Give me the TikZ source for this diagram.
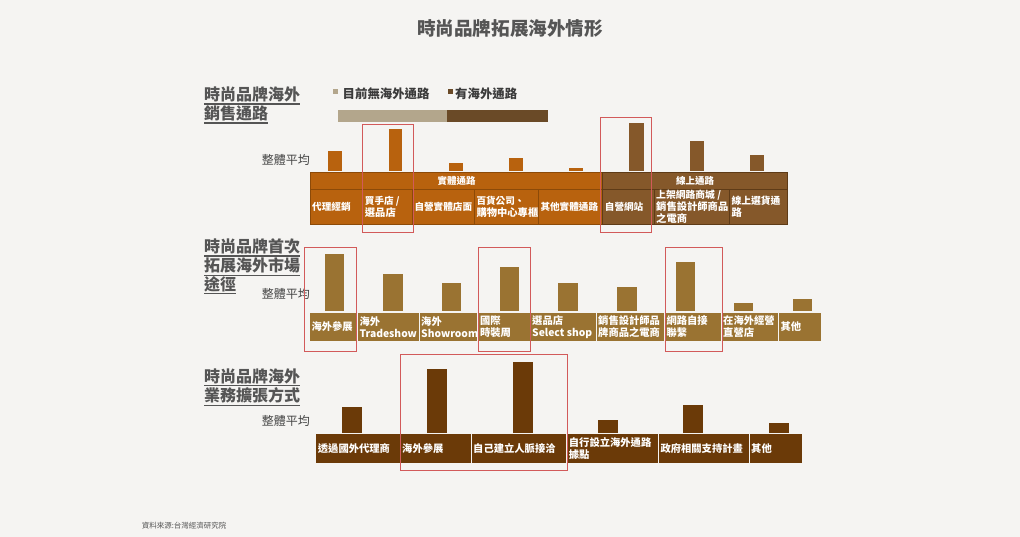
\documentclass[tikz,border=0pt]{standalone}
\usepackage{fontspec}
\setmainfont{Noto Sans CJK TC}
\definecolor{bg}{HTML}{F5F4F2}
\definecolor{orng}{HTML}{B8620E}
\definecolor{orngd}{HTML}{8C4A08}
\definecolor{brn}{HTML}{85582A}
\definecolor{brnd}{HTML}{5E3B17}
\definecolor{gold}{HTML}{9A7332}
\definecolor{dkb}{HTML}{6B3A08}
\definecolor{ltan}{HTML}{B3A68C}
\definecolor{dtan}{HTML}{6A4A27}
\definecolor{txtg}{HTML}{555555}
\definecolor{redbox}{HTML}{D25A5A}
\newcommand\cellbox[8]{%
  \filldraw[fill=#6,draw=#7,line width=0.8pt] (#2,#3) rectangle (#4,#5);
  \node[celltext] (#1) at ({#2+2},{(#3+#5)/2}) {#8};}
\begin{document}
\begin{tikzpicture}[x=1pt,y=-1pt,
  celltext/.style={anchor=west,inner sep=0pt,align=left,text=white,font=\bfseries\fontsize{10.3}{12.2}\selectfont},
  sectitle/.style={anchor=west,inner sep=0pt,text=txtg,font=\bfseries\fontsize{16}{18}\selectfont},
  avg/.style={anchor=east,inner sep=0pt,text=txtg!80!black,font=\fontsize{12}{14}\selectfont},
  hl/.style={draw=redbox,line width=0.9pt},
  uline/.style={draw=txtg,line width=1.3pt}]
\useasboundingbox (0,0) rectangle (1020,537);
\fill[bg] (0,0) rectangle (1020,537);

% title
\node[text=txtg,font=\bfseries\fontsize{18.6}{20}\selectfont,inner sep=0pt] (title) at (510,29) {時尚品牌拓展海外情形};

% ===== Section 1 =====
\node[sectitle] (s1a) at (204,94.5) {時尚品牌海外};
\node[sectitle] (s1b) at (204,113.5) {銷售通路};
\draw[uline] (204,104) -- (300,104);
\draw[uline] (204,123) -- (268,123);

\fill[ltan] (333.3,89.5) rectangle (337.8,94);
\node[anchor=west,inner sep=0pt,text=txtg!70!black,font=\bfseries\fontsize{12.4}{14}\selectfont] (lg1) at (342.5,94) {目前無海外通路};
\fill[dtan] (448.3,89.5) rectangle (452.8,94);
\node[anchor=west,inner sep=0pt,text=txtg!70!black,font=\bfseries\fontsize{12.4}{14}\selectfont] (lg2) at (455,94) {有海外通路};
\fill[ltan] (338.3,110) rectangle (446.7,121.7);
\fill[dtan] (446.7,110) rectangle (548.3,121.7);

\node[avg] (avg1) at (310,160) {整體平均};

% bars
\fill[orng] (327.7,150.7) rectangle (342,171);
\fill[orng] (388.7,129.3) rectangle (402.3,171);
\fill[orng] (448.7,163.3) rectangle (462.7,171);
\fill[orng] (509.3,158.3) rectangle (522.7,171);
\fill[orng] (569.3,167.7) rectangle (583,171);
\fill[brn] (629.3,123.3) rectangle (644,171);
\fill[brn] (690,140.7) rectangle (704,171);
\fill[brn] (750,155.3) rectangle (764.3,171);

% header row
\filldraw[fill=orng,draw=orngd,line width=0.8pt] (310,172.5) rectangle (602.7,189);
\filldraw[fill=brn,draw=brnd,line width=0.8pt] (602.7,172.5) rectangle (787.3,189);
\node[text=white,inner sep=0pt,font=\bfseries\fontsize{9.5}{11}\selectfont] (h1) at (456.5,181) {實體通路};
\node[text=white,inner sep=0pt,font=\bfseries\fontsize{9.5}{11}\selectfont] (h2) at (695,181) {線上通路};

\cellbox{c11}{310}{189}{362.7}{224.5}{orng}{orngd}{\fontsize{9.6}{11.7}\selectfont 代理經銷}
\cellbox{c12}{362.7}{189}{412.3}{224.5}{orng}{orngd}{\fontsize{9.6}{11.7}\selectfont 買手店 /\\選品店}
\cellbox{c13}{412.3}{189}{474.3}{224.5}{orng}{orngd}{\fontsize{9.6}{11.7}\selectfont 自營實體店面}
\cellbox{c14}{474.3}{189}{538.3}{224.5}{orng}{orngd}{\fontsize{9.6}{11.7}\selectfont 百貨公司、\\購物中心專櫃}
\cellbox{c15}{538.3}{189}{602.7}{224.5}{orng}{orngd}{\fontsize{9.6}{11.7}\selectfont 其他實體通路}
\cellbox{c16}{602.7}{189}{654}{224.5}{brn}{brnd}{\fontsize{9.6}{11.7}\selectfont 自營網站}
\cellbox{c17}{654}{189}{729.3}{224.5}{brn}{brnd}{\fontsize{9.8}{11.5}\selectfont 上架網路商城 /\\銷售設計師商品\\之電商}
\cellbox{c18}{729.3}{189}{787.3}{224.5}{brn}{brnd}{\fontsize{9.8}{11.7}\selectfont 線上選貨通\\路}

\draw[hl] (362,124) rectangle (413.3,232);
\draw[hl] (600.7,117.3) rectangle (651.7,232.7);

% ===== Section 2 =====
\node[sectitle] (s2a) at (204,246) {時尚品牌首次};
\node[sectitle] (s2b) at (204,265.5) {拓展海外市場};
\node[sectitle] (s2c) at (204,284) {途徑};
\draw[uline] (204,256) -- (300,256);
\draw[uline] (204,275.5) -- (300,275.5);
\draw[uline] (204,293.5) -- (236,293.5);

\node[avg] (avg2) at (310,294.3) {整體平均};

\fill[gold] (325,254.3) rectangle (344,311.5);
\fill[gold] (383.3,274.3) rectangle (402.7,311.5);
\fill[gold] (441.7,283.3) rectangle (461,311.5);
\fill[gold] (500,266.7) rectangle (519.3,311.5);
\fill[gold] (558.3,283.3) rectangle (578.3,311.5);
\fill[gold] (616.7,287.3) rectangle (636.7,311.5);
\fill[gold] (675.7,262.3) rectangle (695,311.5);
\fill[gold] (734,303.3) rectangle (753.3,311.5);
\fill[gold] (792.7,299.3) rectangle (812.3,311.5);

\cellbox{c21}{309.3}{312.5}{357.3}{341.3}{gold}{bg}{海外參展}
\cellbox{c22}{357.3}{312.5}{419}{341.3}{gold}{bg}{海外\\Tradeshow}
\cellbox{c23}{419}{312.5}{477.8}{341.3}{gold}{bg}{海外\\Showroom}
\cellbox{c24}{477.8}{312.5}{530}{341.3}{gold}{bg}{國際\\時裝周}
\cellbox{c25}{530}{312.5}{596}{341.3}{gold}{bg}{選品店\\Select shop}
\cellbox{c26}{596}{312.5}{664.3}{341.3}{gold}{bg}{銷售設計師品\\牌商品之電商}
\cellbox{c27}{664.3}{312.5}{721}{341.3}{gold}{bg}{網路自接\\聯繫}
\cellbox{c28}{721}{312.5}{778.3}{341.3}{gold}{bg}{在海外經營\\直營店}
\cellbox{c29}{778.3}{312.5}{821.7}{341.3}{gold}{bg}{其他}

\draw[hl] (304.3,247.7) rectangle (356.7,351);
\draw[hl] (478.3,247.7) rectangle (530,351);
\draw[hl] (665,247.7) rectangle (722.7,351);

% ===== Section 3 =====
\node[sectitle] (s3a) at (204,376.5) {時尚品牌海外};
\node[sectitle] (s3b) at (204,395.5) {業務擴張方式};
\draw[uline] (204,385.5) -- (300,385.5);
\draw[uline] (204,405.5) -- (300,405.5);

\node[avg] (avg3) at (310,421) {整體平均};

\fill[dkb] (342.3,407.3) rectangle (362.3,433);
\fill[dkb] (427.3,369.3) rectangle (447.3,433);
\fill[dkb] (512.7,361.7) rectangle (532.7,433);
\fill[dkb] (598.3,420) rectangle (618.3,433);
\fill[dkb] (683.3,405) rectangle (703.3,433);
\fill[dkb] (769,422.7) rectangle (789,433);

\cellbox{c31}{315.7}{433.5}{400}{463.5}{dkb}{bg}{透過國外代理商}
\cellbox{c32}{400}{433.5}{471}{463.5}{dkb}{bg}{海外參展}
\cellbox{c33}{471}{433.5}{566.7}{463.5}{dkb}{bg}{自己建立人脈接洽}
\cellbox{c34}{566.7}{433.5}{658.3}{463.5}{dkb}{bg}{自行設立海外通路\\據點}
\cellbox{c35}{658.3}{433.5}{749}{463.5}{dkb}{bg}{政府相關支持計畫}
\cellbox{c36}{749}{433.5}{802.7}{463.5}{dkb}{bg}{其他}

\draw[hl] (400.7,354) rectangle (567,470);

% source
\node[anchor=west,inner sep=0pt,text=txtg,font=\fontsize{7.5}{9}\selectfont] (src) at (141.7,525.7) {資料來源:台灣經濟研究院};
\end{tikzpicture}
\end{document}
